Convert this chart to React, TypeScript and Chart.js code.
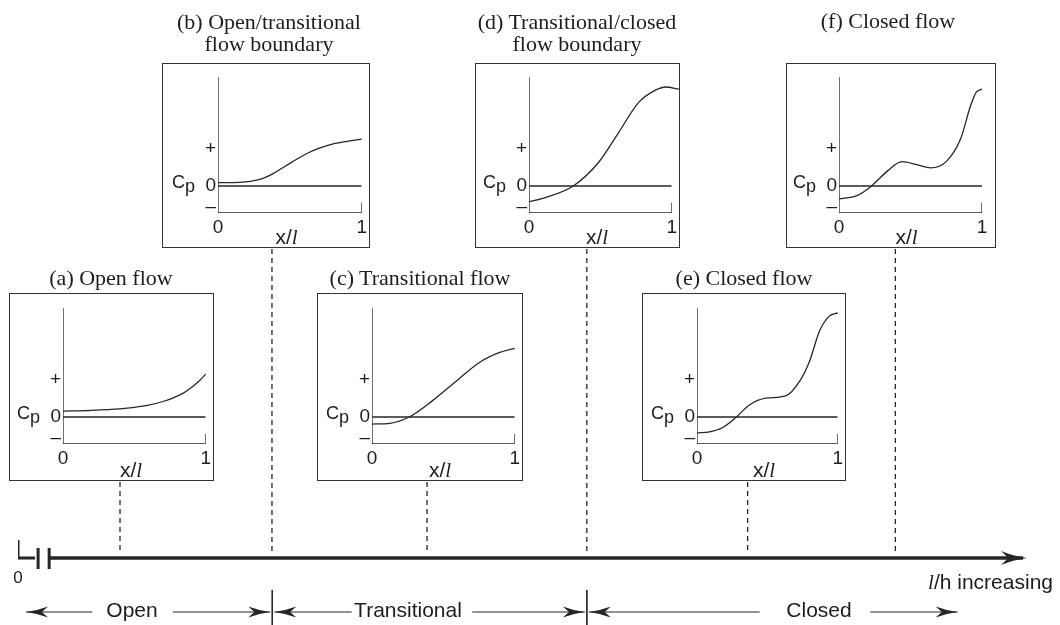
import { useEffect, useRef } from 'react';
import { Chart, registerables } from 'chart.js';

Chart.register(...registerables);

// ---------------- data ----------------
const panelTitles: string[][] = [
  ['(a) Open flow'],
  ['(b) Open/transitional', 'flow boundary'],
  ['(c) Transitional flow'],
  ['(d) Transitional/closed', 'flow boundary'],
  ['(e) Closed flow'],
  ['(f) Closed flow'],
];

// x/l positions and Cp values of each sketched curve
const xA = [0, 0.2, 0.4, 0.5, 0.6, 0.7, 0.76, 0.84, 0.9, 0.95, 1.0];
const cpA = [0.16, 0.18, 0.22, 0.26, 0.32, 0.42, 0.5, 0.64, 0.8, 0.96, 1.16];
const xB = [0, 0.15, 0.29, 0.38, 0.47, 0.55, 0.63, 0.71, 0.79, 0.9, 1.0];
const cpB = [0.09, 0.1, 0.18, 0.33, 0.54, 0.73, 0.9, 1.03, 1.13, 1.21, 1.27];
const xC = [0, 0.125, 0.26, 0.42, 0.59, 0.75, 0.89, 1.0];
const cpC = [-0.19, -0.17, 0.0, 0.43, 0.97, 1.47, 1.74, 1.86];
const xD = [0, 0.125, 0.31, 0.49, 0.63, 0.77, 0.89, 0.96, 1.05];
const cpD = [-0.43, -0.3, 0, 0.65, 1.46, 2.27, 2.6, 2.68, 2.62];
const xE = [0, 0.09, 0.18, 0.28, 0.37, 0.49, 0.63, 0.73, 0.8, 0.87, 0.94, 1.0];
const cpE = [-0.43, -0.4, -0.29, 0, 0.32, 0.51, 0.57, 0.97, 1.51, 2.32, 2.73, 2.82];
const xF = [0, 0.125, 0.23, 0.34, 0.44, 0.55, 0.64, 0.75, 0.85, 0.92, 0.96, 1.0];
const cpF = [-0.35, -0.26, 0.01, 0.41, 0.66, 0.57, 0.49, 0.66, 1.27, 2.17, 2.54, 2.62];

const panelX = [xA, xB, xC, xD, xE, xF];
const panelCp = [cpA, cpB, cpC, cpD, cpE, cpF];

const yTickValues = [-0.57, 0, 1];
const yTickLabels = ['\u2013', '0', '+'];
const xTickValues = [0, 1];
const xTickLabels = ['0', '1'];
const yMin = -0.73;
const yMax = 2.95;
const endTickTop = -0.45;

// l/h axis (arbitrary units, 0..100)
const panelLH = [10.15, 25.27, 40.7, 56.6, 72.6, 87.3];
const regimeNames = ['Open', 'Transitional', 'Closed'];
const regimeBounds = [25.3, 56.6];
const regimeArrowTips = [
  [0.8, 25.1],
  [25.5, 56.4],
  [56.8, 93.5],
];
const regimeLabelGaps = [
  [7.4, 15.4],
  [33.2, 45.2],
  [73.8, 84.8],
];
const axisStartLH = 3.1;
const axisEndLH = 100;
const breakBarsLH = [2.0, 3.1];

// ---------------- layout / style ----------------
const FONT_SANS = "'Liberation Sans', Arial, Helvetica, sans-serif";
const FONT_SERIF = "'Liberation Serif', 'Times New Roman', Times, serif";
const INK = '#1d1d1d';
const LINE = '#262626';

type PL = { left: number; top: number; w: number; h: number; padL: number; padR: number; plotTop: number; plotBottom: number };
const PANEL_LAYOUT: PL[] = [
  { left: 9, top: 293, w: 205, h: 188, padL: 54, padR: 7, plotTop: 15, plotBottom: 151 },
  { left: 162, top: 63, w: 208, h: 185, padL: 56, padR: 7, plotTop: 14, plotBottom: 150 },
  { left: 317, top: 293, w: 206, h: 188, padL: 55, padR: 7, plotTop: 15, plotBottom: 151 },
  { left: 475, top: 63, w: 205, h: 185, padL: 54, padR: 7, plotTop: 14, plotBottom: 150 },
  { left: 642, top: 293, w: 204, h: 188, padL: 55, padR: 7, plotTop: 15, plotBottom: 151 },
  { left: 786, top: 63, w: 210, h: 185, padL: 53, padR: 14, plotTop: 14, plotBottom: 150 },
];
const TITLE_LAYOUT = [
  { cx: 111, base: [285] },
  { cx: 269, base: [29, 51] },
  { cx: 420, base: [285] },
  { cx: 577, base: [29, 51] },
  { cx: 744, base: [285] },
  { cx: 888, base: [28] },
];

const PAGE_W = 1060;
const PAGE_H = 625;
const AXIS_Y = 558;
const CONNECTOR_END = 551;

const sansBase = (f: number) => 0.8465 * f;
const serifBase = (f: number) => 0.8375 * f;

const arrowPlugin = {
  id: 'arrowheads',
  afterDatasetsDraw(chart: any) {
    const ctx = chart.ctx;
    chart.data.datasets.forEach((ds: any, i: number) => {
      if (!ds.arrow) return;
      const pts = chart.getDatasetMeta(i).data;
      if (pts.length < 2) return;
      const p1 = pts[pts.length - 1];
      const p0 = pts[pts.length - 2];
      const dx = p1.x - p0.x;
      const dy = p1.y - p0.y;
      const d = Math.hypot(dx, dy) || 1;
      const ux = dx / d;
      const uy = dy / d;
      const px = -uy;
      const py = ux;
      const { len, half, extra } = ds.arrow;
      const tx = p1.x + ux * extra;
      const ty = p1.y + uy * extra;
      ctx.save();
      ctx.fillStyle = ds.borderColor;
      ctx.beginPath();
      ctx.moveTo(tx, ty);
      ctx.quadraticCurveTo(
        tx - ux * len * 0.55 + px * half * 0.3,
        ty - uy * len * 0.55 + py * half * 0.3,
        tx - ux * len + px * half,
        ty - uy * len + py * half
      );
      ctx.lineTo(tx - ux * len * 0.72, ty - uy * len * 0.72);
      ctx.lineTo(tx - ux * len - px * half, ty - uy * len - py * half);
      ctx.quadraticCurveTo(
        tx - ux * len * 0.55 - px * half * 0.3,
        ty - uy * len * 0.55 - py * half * 0.3,
        tx,
        ty
      );
      ctx.closePath();
      ctx.fill();
      ctx.restore();
    });
  },
};

function seg(points: { x: number; y: number }[], width: number, extra: any = {}) {
  return {
    data: points,
    borderColor: LINE,
    borderWidth: width,
    pointRadius: 0,
    tension: 0,
    fill: false,
    ...extra,
  };
}

function AxisOverlay() {
  const ref = useRef<HTMLCanvasElement>(null);
  useEffect(() => {
    const datasets: any[] = [];
    // main l/h axis
    datasets.push(seg([{ x: axisStartLH, y: AXIS_Y }, { x: axisEndLH, y: AXIS_Y }], 3.4, { arrow: { len: 26, half: 7, extra: 4 } }));
    // axis break
    datasets.push(seg([{ x: 0, y: 540 }, { x: 0, y: AXIS_Y }, { x: 1.7, y: AXIS_Y }], 3, { borderJoinStyle: 'miter' }));
    breakBarsLH.forEach((b) => datasets.push(seg([{ x: b, y: 548 }, { x: b, y: 569 }], 3)));
    // dashed connectors from panels
    panelLH.forEach((lh, i) => {
      const L = PANEL_LAYOUT[i];
      datasets.push(seg([{ x: lh, y: L.top + L.h + 1 }, { x: lh, y: CONNECTOR_END }], 1.3, { borderDash: [5, 4] }));
    });
    // regime separators
    regimeBounds.forEach((b) => datasets.push(seg([{ x: b, y: 590 }, { x: b, y: 625 }], 1)));
    // regime arrows
    regimeArrowTips.forEach((tips, i) => {
      const gap = regimeLabelGaps[i];
      datasets.push(seg([{ x: gap[0], y: 612 }, { x: tips[0], y: 612 }], 1, { arrow: { len: 22, half: 5.5, extra: 0 } }));
      datasets.push(seg([{ x: gap[1], y: 612 }, { x: tips[1], y: 612 }], 1, { arrow: { len: 22, half: 5.5, extra: 0 } }));
    });
    const chart = new Chart(ref.current!, {
      type: 'line',
      data: { datasets },
      options: {
        animation: false,
        responsive: false,
        maintainAspectRatio: false,
        events: [],
        layout: { padding: { left: 18, right: 37, top: 0, bottom: 0 } },
        plugins: { legend: { display: false }, tooltip: { enabled: false } },
        scales: {
          x: { type: 'linear', min: 0, max: 100, display: false },
          y: { type: 'linear', min: 0, max: PAGE_H, reverse: true, display: false },
        },
      } as any,
      plugins: [arrowPlugin],
    });
    return () => chart.destroy();
  }, []);
  return <canvas ref={ref} width={PAGE_W} height={PAGE_H} style={{ position: 'absolute', left: 0, top: 0, width: PAGE_W, height: PAGE_H }} />;
}

function Panel({ idx }: { idx: number }) {
  const ref = useRef<HTMLCanvasElement>(null);
  const L = PANEL_LAYOUT[idx];
  useEffect(() => {
    const xs = panelX[idx];
    const cps = panelCp[idx];
    const curve = xs.map((x, i) => ({ x, y: cps[i] }));
    const frame = [
      { x: 0, y: yMax },
      { x: 0, y: yMin },
      { x: 1, y: yMin },
      { x: 1, y: endTickTop },
    ];
    const zero = [
      { x: 0, y: 0 },
      { x: 1, y: 0 },
    ];
    const tickFont = { family: FONT_SANS, size: 19 };
    const chart = new Chart(ref.current!, {
      type: 'line',
      data: {
        datasets: [
          seg(frame, 1.3, { borderJoinStyle: 'miter' }),
          seg(zero, 1.3),
          { ...seg(curve, 1.3), cubicInterpolationMode: 'monotone', clip: false },
        ],
      },
      options: {
        animation: false,
        responsive: false,
        maintainAspectRatio: false,
        events: [],
        layout: { padding: { left: 0, right: L.padR, top: L.plotTop, bottom: 0 } },
        plugins: { legend: { display: false }, tooltip: { enabled: false } },
        scales: {
          x: {
            type: 'linear',
            min: 0,
            max: 1,
            grid: { display: false, drawTicks: false },
            border: { display: false },
            afterBuildTicks: (s: any) => {
              s.ticks = xTickValues.map((v) => ({ value: v }));
            },
            afterFit: (s: any) => {
              s.height = L.h - L.plotBottom;
            },
            ticks: {
              autoSkip: false,
              maxRotation: 0,
              minRotation: 0,
              padding: 3,
              color: INK,
              font: tickFont,
              callback: (v: any) => xTickLabels[xTickValues.indexOf(Number(v))],
            },
          },
          y: {
            type: 'linear',
            min: yMin,
            max: yMax,
            grid: { display: false, drawTicks: false },
            border: { display: false },
            afterBuildTicks: (s: any) => {
              s.ticks = yTickValues.map((v) => ({ value: v }));
            },
            afterFit: (s: any) => {
              s.width = L.padL;
            },
            ticks: {
              autoSkip: false,
              padding: 2,
              color: INK,
              font: tickFont,
              callback: (v: any) => yTickLabels[yTickValues.indexOf(Number(v))],
            },
          },
        },
      } as any,
    });
    return () => chart.destroy();
  }, [idx]);

  const zeroPx = L.top + L.plotTop + (yMax / (yMax - yMin)) * (L.plotBottom - L.plotTop);
  const cpSize = 18;
  const xlSize = 21;
  const xlCenter = L.left + L.padL + (L.w - L.padL - L.padR) / 2 - 4;
  const xlBase = L.top + L.h - 4;
  return (
    <>
      <div
        style={{
          position: 'absolute',
          left: L.left,
          top: L.top,
          width: L.w,
          height: L.h,
          boxSizing: 'border-box',
          border: '1.5px solid #333',
        }}
      />
      <canvas ref={ref} width={L.w} height={L.h} style={{ position: 'absolute', left: L.left, top: L.top, width: L.w, height: L.h }} />
      <div
        style={{
          position: 'absolute',
          left: L.left + L.padL - 46,
          top: zeroPx + 2 - sansBase(cpSize),
          fontFamily: FONT_SANS,
          fontSize: cpSize,
          lineHeight: `${cpSize}px`,
          color: INK,
          whiteSpace: 'nowrap',
        }}
      >
        C<span style={{ position: 'relative', top: 4 }}>p</span>
      </div>
      <div
        style={{
          position: 'absolute',
          left: xlCenter,
          top: xlBase - sansBase(xlSize),
          transform: 'translateX(-50%)',
          fontFamily: FONT_SANS,
          fontSize: xlSize,
          lineHeight: `${xlSize}px`,
          color: INK,
          whiteSpace: 'nowrap',
        }}
      >
        x/<span style={{ fontFamily: FONT_SERIF, fontStyle: 'italic' }}>l</span>
      </div>
    </>
  );
}

function Titles() {
  const size = 22;
  return (
    <>
      {panelTitles.map((lines, i) =>
        lines.map((t, j) => (
          <div
            key={`${i}-${j}`}
            style={{
              position: 'absolute',
              left: TITLE_LAYOUT[i].cx,
              top: TITLE_LAYOUT[i].base[j] - serifBase(size),
              transform: 'translateX(-50%)',
              fontFamily: FONT_SERIF,
              fontSize: size,
              lineHeight: `${size}px`,
              color: INK,
              whiteSpace: 'nowrap',
            }}
          >
            {t}
          </div>
        ))
      )}
    </>
  );
}

const REGIME_LABEL_X = [132, 408, 819];

function BottomLabels() {
  const size = 21;
  return (
    <>
      {regimeNames.map((n, i) => (
        <div
          key={n}
          style={{
            position: 'absolute',
            left: REGIME_LABEL_X[i],
            top: 617 - sansBase(size),
            transform: 'translateX(-50%)',
            fontFamily: FONT_SANS,
            fontSize: size,
            lineHeight: `${size}px`,
            color: INK,
            whiteSpace: 'nowrap',
          }}
        >
          {n}
        </div>
      ))}
      <div
        style={{
          position: 'absolute',
          right: PAGE_W - 1053,
          top: 589 - sansBase(size),
          fontFamily: FONT_SANS,
          fontSize: size,
          lineHeight: `${size}px`,
          color: INK,
          whiteSpace: 'nowrap',
        }}
      >
        <span style={{ fontFamily: FONT_SERIF, fontStyle: 'italic' }}>l</span>/h increasing
      </div>
      <div
        style={{
          position: 'absolute',
          left: 18,
          top: 583 - sansBase(17),
          transform: 'translateX(-50%)',
          fontFamily: FONT_SANS,
          fontSize: 17,
          lineHeight: '17px',
          color: INK,
        }}
      >
        0
      </div>
    </>
  );
}

export default function App() {
  return (
    <div style={{ position: 'absolute', left: 0, top: 0, width: PAGE_W, height: PAGE_H, background: '#fff', overflow: 'hidden' }}>
      <AxisOverlay />
      {PANEL_LAYOUT.map((_, i) => (
        <Panel key={i} idx={i} />
      ))}
      <Titles />
      <BottomLabels />
    </div>
  );
}
